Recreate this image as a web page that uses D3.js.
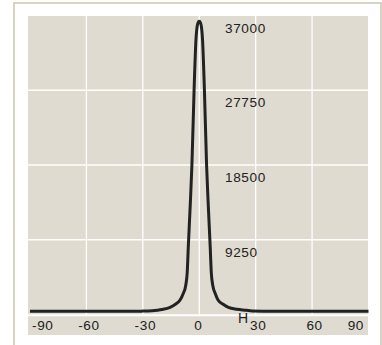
<!DOCTYPE html>
<html>
<head>
<meta charset="utf-8">
<script src="https://cdn.jsdelivr.net/npm/d3@7"></script>
<style>
  html, body { margin: 0; padding: 0; background: #fff; }
  svg { display: block; }
</style>
</head>
<body>
<svg id="chart"></svg>
<script>
/*
Peak profile.
 */
var xValues = [-90, -60, -40, -30, -25, -20, -15.5, -12.5, -10.2, -8.5, -7.2, -6.4, -5.8, -4.8, -3.9, -2.75, -1.75, -0.8, 0,
               0.8, 1.75, 2.75, 3.9, 4.8, 5.8, 6.4, 7.2, 8.5, 10, 12.5, 15.5, 20, 25, 28, 40, 60, 90];
var yValues = [400, 400, 400, 420, 470, 620, 890, 1300, 1790, 2600, 3600, 5200, 8500, 13500, 18500, 27750, 34000, 36000, 36300,
               36000, 34000, 27750, 18500, 13500, 8500, 5200, 3600, 2600, 1790, 1300, 890, 650, 520, 430, 400, 400, 400];

var xTicks = [-90, -60, -30, 0, 30, 60, 90];
var xGrid = [-60, -30, 0, 30, 60];
var yTicks = [9250, 18500, 27750, 37000];
var xLabel = "H";

/*
Layout constants
 */
const width = 382;
const height = 345;
const plotLeft = 28, plotRight = 368, plotTop = 16, plotBottom = 335;
const bgColor = "#dfdbd0";
const frameColor = "#cbc6b3";
const textColor = "#222";
const fontFamily = "'Liberation Sans', Arial, sans-serif";

var svg = d3.select("#chart")
    .attr("width", width)
    .attr("height", height);

var x = d3.scaleLinear().domain([-90, 90]).range([30, 368.5]);
var y = d3.scaleLinear().domain([0, 37000]).range([314.5, 15.5]);

// outer frame
svg.append("rect")
    .attr("x", 14).attr("y", 3)
    .attr("width", 367).attr("height", 360)
    .attr("fill", "#fff")
    .attr("stroke", frameColor)
    .attr("stroke-width", 1.5);

// plot background
svg.append("rect")
    .attr("x", plotLeft).attr("y", plotTop)
    .attr("width", plotRight - plotLeft).attr("height", plotBottom - plotTop)
    .attr("fill", bgColor);

var grid = svg.append("g").attr("stroke", "#fff");

grid.selectAll("line.v")
    .data(xGrid)
    .join("line")
    .attr("class", "v")
    .attr("x1", d => x(d)).attr("x2", d => x(d))
    .attr("y1", plotTop).attr("y2", y(0))
    .attr("stroke-width", 1.3);

grid.selectAll("line.h")
    .data(yTicks.filter(d => d < 37000))
    .join("line")
    .attr("class", "h")
    .attr("x1", plotLeft).attr("x2", plotRight)
    .attr("y1", d => y(d)).attr("y2", d => y(d))
    .attr("stroke-width", 1.3);

// zero line separating the tick label strip
grid.append("line")
    .attr("x1", plotLeft).attr("x2", plotRight)
    .attr("y1", y(0) + 0.8).attr("y2", y(0) + 0.8)
    .attr("stroke-width", 2);

// y labels sit right of the zero gridline, just under each gridline
svg.append("g")
    .selectAll("text")
    .data(yTicks)
    .join("text")
    .attr("x", 225)
    .attr("y", d => y(d) + 17.2)
    .attr("fill", textColor)
    .attr("font-family", fontFamily)
    .attr("font-size", 13.6)
    .attr("letter-spacing", 0.6)
    .text(d => d);

// x labels
svg.append("g")
    .selectAll("text")
    .data(xTicks)
    .join("text")
    .attr("x", d => d === -90 ? 32 : d === 90 ? 364 : x(d) + (d === 0 ? -1 : 2.5))
    .attr("y", 330.3)
    .attr("text-anchor", d => d === -90 ? "start" : d === 90 ? "end" : "middle")
    .attr("fill", textColor)
    .attr("font-family", fontFamily)
    .attr("font-size", 13.6)
    .attr("letter-spacing", 0.6)
    .text(d => d);

svg.append("text")
    .attr("x", 238)
    .attr("y", 323.3)
    .attr("fill", textColor)
    .attr("font-family", fontFamily)
    .attr("font-size", 14)
    .text(xLabel);

// the peak
var points = xValues.map((d, i) => [d, yValues[i]]);
var line = d3.line()
    .x(d => x(d[0]))
    .y(d => y(d[1]))
    .curve(d3.curveMonotoneX);

svg.append("path")
    .datum(points)
    .attr("d", line)
    .attr("fill", "none")
    .attr("stroke", "#222")
    .attr("stroke-width", 3)
    .attr("stroke-linejoin", "round");
</script>
</body>
</html>
